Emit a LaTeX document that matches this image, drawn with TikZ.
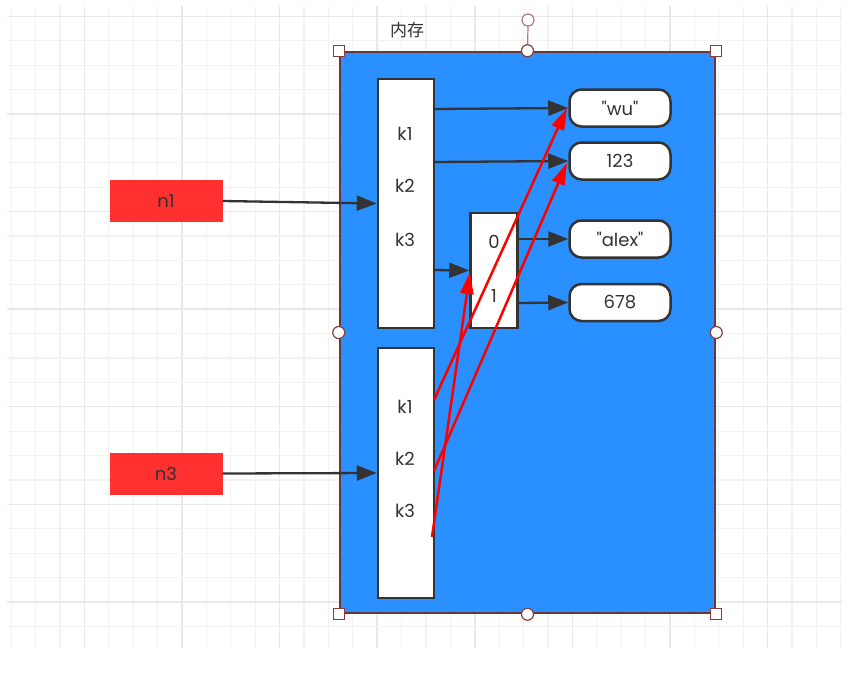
\documentclass[tikz,border=0pt]{standalone}
\usepackage{fontspec}
\setmainfont{Poppins}[Ligatures=TeXOff]
\newfontfamily\cjk{Noto Sans CJK SC}
\usetikzlibrary{arrows.meta}
\definecolor{memblue}{HTML}{2A90FF}
\definecolor{ink}{HTML}{333333}
\definecolor{redbox}{HTML}{FF3030}
\definecolor{selred}{HTML}{8E3A3A}
\definecolor{rotred}{HTML}{B07A7A}
\definecolor{gridminor}{HTML}{F2F2F2}
\definecolor{gridmajor}{HTML}{E8E8E8}
\tikzset{
  txt/.style={font=\fontsize{18}{21}\selectfont, text=ink},
  slot/.style={draw=ink, line width=2.5pt, fill=white, minimum width=56pt, inner sep=0pt},
  pill/.style={draw=ink, line width=2.5pt, fill=white, rounded corners=12pt, minimum width=101pt, minimum height=37pt, inner sep=0pt, txt},
  varbox/.style={fill=redbox, minimum width=113pt, minimum height=42pt, inner sep=0pt, txt},
  blk/.style={draw=ink, line width=2.3pt, -{Triangle[length=20pt,width=15pt]}},
  redarr/.style={draw=red, line width=2.5pt, -{Triangle[length=22pt,width=13pt]}},
  sqhandle/.style={draw=selred, line width=1.2pt, fill=white, minimum size=11pt, inner sep=0pt},
  cihandle/.style={circle, draw=selred, line width=1.2pt, fill=white, minimum size=12pt, inner sep=0pt},
}
\begin{document}
\begin{tikzpicture}[x=1pt,y=-1pt]
\useasboundingbox (0,0) rectangle (856,680);
\fill[white] (0,0) rectangle (856,680);
% grid
\foreach \k in {0,...,34}{
  \pgfmathsetmacro{\xx}{11.2+24.4*\k}
  \pgfmathtruncatemacro{\mm}{mod(\k,4)}
  \ifnum\mm=3
    \draw[gridmajor, line width=1.5pt] (\xx,6) -- (\xx,648);
  \else
    \draw[gridminor, line width=1.2pt] (\xx,6) -- (\xx,648);
  \fi
}
\foreach \k in {0,...,25}{
  \pgfmathsetmacro{\yy}{16.3+24.4*\k}
  \pgfmathtruncatemacro{\mm}{mod(\k,4)}
  \ifnum\mm=0
    \draw[gridmajor, line width=1.5pt] (7,\yy) -- (842,\yy);
  \else
    \draw[gridminor, line width=1.2pt] (7,\yy) -- (842,\yy);
  \fi
}
% memory rectangle
\node[draw=selred!60!ink, line width=2.5pt, fill=memblue, minimum width=375pt, minimum height=561pt, inner sep=0pt] (mem) at (527.5,332.5) {};
\node[txt, font=\cjk\fontsize{17}{20}\selectfont] (memlabel) at (407,30) {内存};
% handles
\draw[rotred, line width=1.2pt] (mem.north) -- (528,26);
\node[circle, draw=rotred, line width=1.2pt, fill=white, minimum size=12pt, inner sep=0pt] (rot) at (528,20) {};
\node[sqhandle] (h1) at (mem.north west) {};
\node[sqhandle] (h2) at (mem.north east) {};
\node[sqhandle] (h3) at (mem.south west) {};
\node[sqhandle] (h4) at (mem.south east) {};
\node[cihandle] (h5) at (mem.north) {};
\node[cihandle] (h6) at (mem.south) {};
\node[cihandle] (h7) at (mem.west) {};
\node[cihandle] (h8) at (mem.east) {};
% dict boxes
\node[slot, minimum height=249pt] (d1) at (406,203.5) {};
\node[slot, minimum height=250pt] (d2) at (406,473) {};
\node[txt] (a1) at (405,134) {k1};
\node[txt] (a2) at (405,186) {k2};
\node[txt] (a3) at (405,240) {k3};
\node[txt] (b1) at (405,407) {k1};
\node[txt] (b2) at (405,459) {k2};
\node[txt] (b3) at (405,511) {k3};
% list box
\node[slot, minimum width=47pt, minimum height=115pt] (lst) at (494,270.5) {};
\node[txt] (l0) at (494,242) {0};
\node[txt] (l1) at (494,296) {1};
% values
\node[pill] (wu) at (620,108) {"wu"};
\node[pill] (v123) at (620,161) {123};
\node[pill] (alex) at (620,239) {"alex"};
\node[pill] (v678) at (620,302.5) {678};
% variables
\node[varbox] (n1) at (166,201) {n1};
\node[varbox] (n3) at (166,473.5) {n3};
% connector start points
\coordinate (s1) at (434,109);
\coordinate (s2) at (434,162);
\coordinate (s3) at (434,270);
\coordinate (s0) at (518,239);
\coordinate (s4) at (518,303);
\coordinate (r1) at (434,400);
\coordinate (r2) at (434,471);
\coordinate (r3) at (432,537);
\coordinate (t1) at (567,108);
\coordinate (t2) at (567,163);
\coordinate (t3) at (470,272);
% black arrows
\draw[blk] (n1.east) -- (d1.west);
\draw[blk] (n3.east) -- (d2.west);
\draw[blk] (s1) -- (wu.west);
\draw[blk] (s2) -- (v123.west);
\draw[blk] (s3) -- (lst.west);
\draw[blk] (s0) -- (alex.west);
\draw[blk] (s4) -- (v678.west);
% red arrows
\draw[redarr] (r1) -- (t1);
\draw[redarr] (r2) -- (t2);
\draw[redarr] (r3) -- (t3);
\end{tikzpicture}
\end{document}
